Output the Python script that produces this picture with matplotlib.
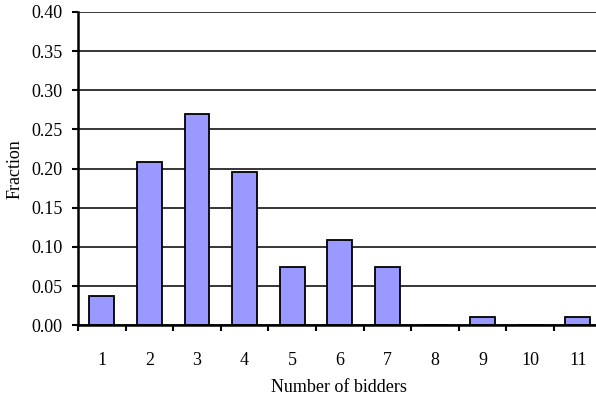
import numpy as np
import matplotlib

matplotlib.use("Agg")
import matplotlib.pyplot as plt

# ---- data -------------------------------------------------------------------
bidders = ["1", "2", "3", "4", "5", "6", "7", "8", "9", "10", "11"]
fraction = [0.037, 0.209, 0.270, 0.196, 0.074, 0.109, 0.074, 0.0, 0.011, 0.0, 0.011]
y_ticks = [0.00, 0.05, 0.10, 0.15, 0.20, 0.25, 0.30, 0.35, 0.40]

BAR = "#9999FF"
INK = "#000000"

plt.rcParams.update(
    {
        "font.family": ["Liberation Serif", "DejaVu Serif"],
        "font.size": 13,
        "text.color": INK,
    }
)

W, H = 596, 400
fig = plt.figure(figsize=(W / 100, H / 100), dpi=100)
# axes box in pixels: left 78, right ~602 (cut off by figure edge), top 12, bottom 325
left, right, top, bottom = 78, 601.6, 12, 325.3
ax = fig.add_axes([left / W, 1 - bottom / H, (right - left) / W, (bottom - top) / H])

x = np.arange(len(bidders))
ax.bar(x, fraction, width=0.52, color=BAR, edgecolor=INK, linewidth=1.3, zorder=3)

ax.set_xlim(-0.5, len(bidders) - 0.5)
ax.set_ylim(0, 0.40)
ax.set_yticks(y_ticks)
ax.set_yticklabels([f"{v:.2f}" for v in y_ticks])
ax.yaxis.grid(True, color=INK, lw=1.1, zorder=0)
ax.set_axisbelow(True)

# category labels centred, tick marks at category boundaries
ax.set_xticks(x)
ax.set_xticklabels(bidders)
ax.tick_params(axis="x", length=0, pad=19)
ax.set_xticks(np.arange(-0.5, len(bidders) - 0.5 + 0.01, 1.0), minor=True)
ax.tick_params(axis="x", which="minor", length=4.3, width=1.5, direction="out")
ax.tick_params(axis="y", length=4.3, width=1.5, direction="out", pad=7)

for side in ("top", "right"):
    ax.spines[side].set_visible(False)
for side in ("left", "bottom"):
    ax.spines[side].set_linewidth(1.8)
    ax.spines[side].set_zorder(4)

fig.text(338.7 / W, 1 - 388 / H, "Number of bidders", ha="center", va="center")
fig.text(15 / W, 1 - 169 / H, "Fraction", ha="center", va="center", rotation=90)

fig.savefig("out.png", dpi=100, facecolor="white")
plt.close(fig)
